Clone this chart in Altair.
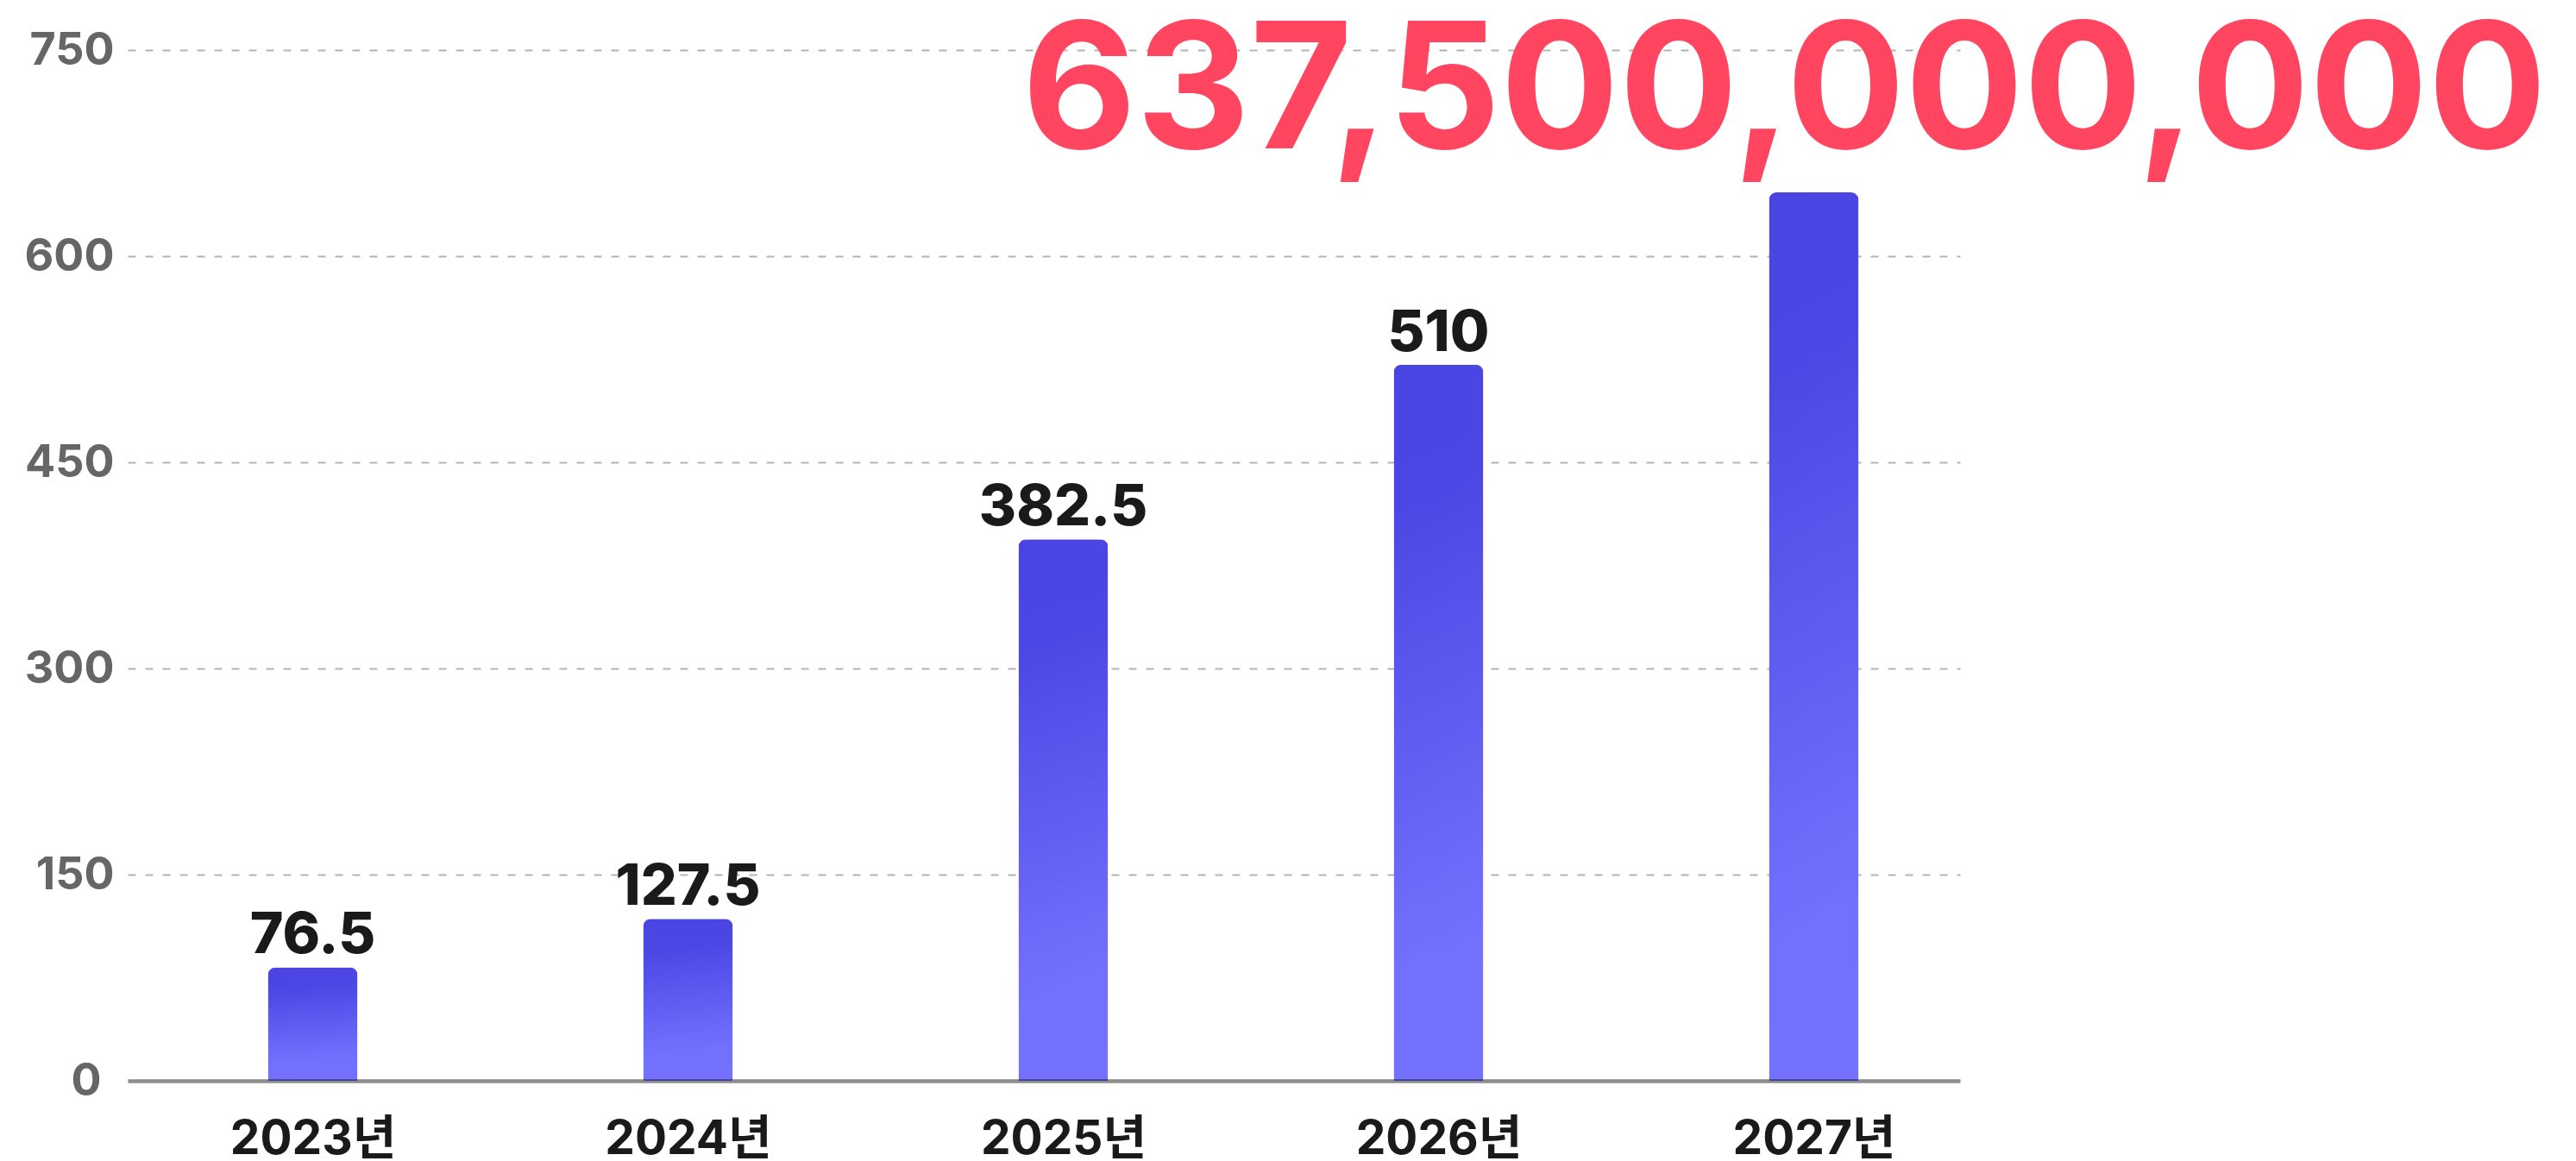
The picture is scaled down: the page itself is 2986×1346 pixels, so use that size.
import altair as alt
import pandas as pd

years = ["2023년", "2024년", "2025년", "2026년", "2027년"]
bar_values = [82.6, 117.8, 394.0, 521.0, 646.4]
label_texts = ["76.5", "127.5", "382.5", "510", "637,500,000,000"]
y_ticks = [0, 150, 300, 450, 600, 750]

df = pd.DataFrame({"year": years, "value": bar_values, "label": label_texts})

FONT = "Inter, 'Noto Sans CJK KR', sans-serif"

x_enc = alt.X(
    "year:N",
    sort=years,
    scale=alt.Scale(type="point", padding=0.4414, align=0.5586),
    axis=alt.Axis(
        title=None,
        ticks=False,
        tickSize=0,
        domain=True,
        domainColor="black",
        domainOpacity=0.45,
        domainWidth=4.5,
        grid=False,
        labelFont=FONT,
        labelFontSize=55,
        labelFontWeight="bold",
        labelColor="#1a1a1a",
        labelPadding=41,
        labelAngle=0,
        labelLimit=0,
        zindex=1,
    ),
)

y_enc = alt.Y(
    "value:Q",
    scale=alt.Scale(domain=[0, 750], nice=False),
    axis=alt.Axis(
        title=None,
        values=y_ticks,
        domain=False,
        ticks=False,
        tickSize=0,
        grid=True,
        gridDash=[9, 11],
        gridColor="#b3b3b3",
        gridWidth=2,
        gridOpacity={"condition": {"test": "datum.value === 0", "value": 0}, "value": 1},
        labelFont=FONT,
        labelFontSize=52,
        labelFontWeight="bold",
        labelColor="#666666",
        labelPadding={"condition": {"test": "datum.value === 0", "value": 31}, "value": 16},
        zindex=0,
    ),
)

base = alt.Chart(df).encode(x=x_enc, y=y_enc)

bars = base.mark_bar(
    size=104,
    cornerRadiusTopLeft=9,
    cornerRadiusTopRight=9,
    color=alt.Gradient(
        gradient="linear",
        x1=0, y1=0, x2=0.06, y2=1,
        stops=[
            alt.GradientStop(color="#4a45e2", offset=0),
            alt.GradientStop(color="#4c47e4", offset=0.2),
            alt.GradientStop(color="#7470fe", offset=0.85),
            alt.GradientStop(color="#7571ff", offset=1),
        ],
    ),
)

small_labels = base.transform_filter(
    alt.datum.year != years[-1]
).mark_text(
    font=FONT,
    fontSize=66,
    fontWeight=800,
    color="#1a1a1a",
    baseline="alphabetic",
    align="center",
    dy=-16,
).encode(text="label:N")

big_label = base.transform_filter(
    alt.datum.year == years[-1]
).mark_text(
    font=FONT,
    fontSize=204,
    fontWeight="bold",
    color="#ff4560",
    baseline="alphabetic",
    align="center",
    dy=-51,
    dx=-34,
).encode(text="label:N")

chart = alt.layer(bars, small_labels, big_label).properties(
    width=2124,
    height=1195,
    autosize=alt.AutoSizeParams(type="none"),
    padding={"left": 140, "top": 50, "right": 700, "bottom": 92},
    background="white",
).configure_view(stroke=None)

chart.save("out.html", embed_options={"renderer": "svg", "actions": False})
